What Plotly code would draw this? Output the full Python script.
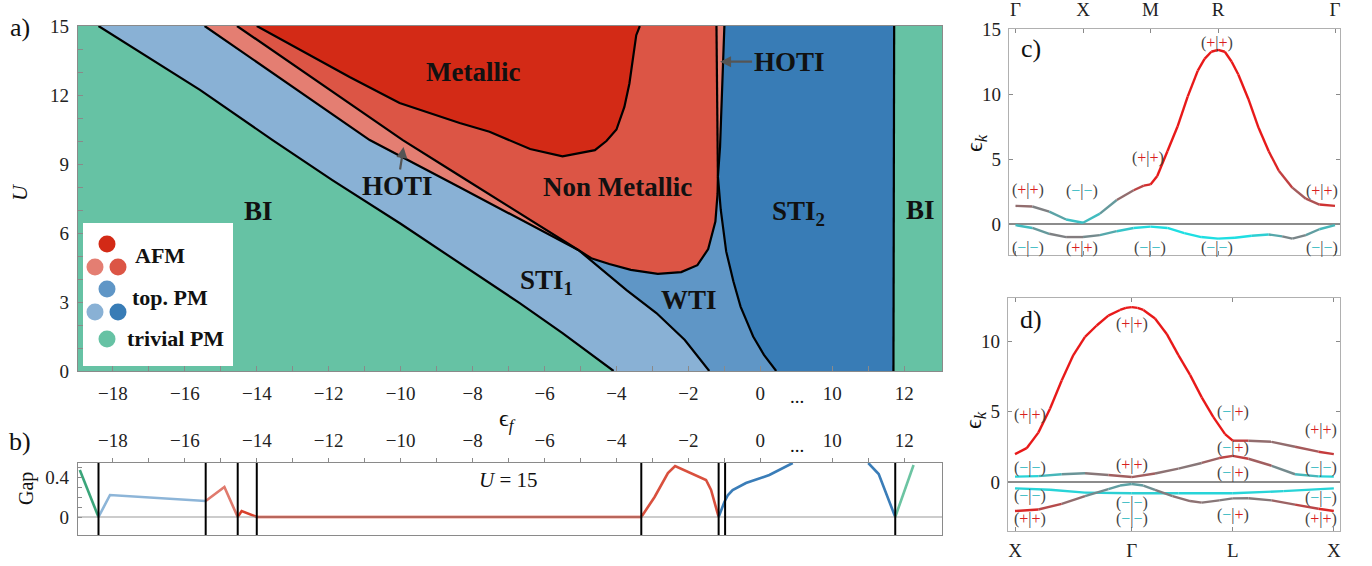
import plotly.graph_objects as go

W, H = 1372, 566

# ---------------- panel a : phase boundaries (eps_f, U) ----------------
bi_sti1_eps = [-18.4, -15.58, -13.56, -11.9, -10.0, -8.0, -6.7, -5.5, -4.08]
bi_sti1_U = [15, 12.22, 10.04, 8.3, 6.4, 4.3, 2.96, 1.65, 0]

hoti_low_eps = [-15.45, -12.9, -10.86, -8.36, -6.69, -5.05]
hoti_low_U = [15, 12.25, 10.04, 7.99, 6.62, 5.25]

hoti_up_eps = [-14.55, -12.2, -9.94, -8.36, -6.69, -5.05]
hoti_up_U = [15, 12.47, 10.04, 8.49, 6.86, 5.25]

sti1_wti_eps = [-5.05, -4.4, -3.72, -2.89, -2.1, -1.42]
sti1_wti_U = [5.25, 4.4, 3.52, 2.52, 1.35, 0]

metal_eps = [-14.0, -12.81, -11.42, -10.03, -8.36, -7.53, -6.4, -5.5, -4.6, -4.28, -4.0, -3.78, -3.64, -3.45, -3.35]
metal_U = [15, 13.96, 12.78, 11.65, 10.78, 10.4, 9.65, 9.33, 9.6, 10.0, 10.5, 11.48, 12.5, 14.6, 15]

nm_low_eps = [-5.05, -4.7, -4.2, -3.6, -2.85, -2.2, -1.75, -1.45, -1.25, -1.19, -1.18]
nm_low_U = [5.25, 4.9, 4.65, 4.4, 4.22, 4.3, 4.6, 5.3, 6.5, 7.7, 8.45]

wedge_l_eps = [-1.18, -1.2, -1.21, -1.22]
wedge_l_U = [8.45, 10.9, 13.0, 15]

wedge_r_eps = [-1.0, -1.05, -1.12, -1.18]
wedge_r_U = [15, 12.4, 9.75, 8.45]

sti2_left_eps = [-1.18, -1.1, -0.95, -0.75, -0.55, -0.2, 0.1, 0.44]
sti2_left_U = [8.45, 7.0, 5.2, 3.9, 2.8, 1.5, 0.7, 0]

sti2_right_eps = [11.72, 11.72, 11.7]
sti2_right_U = [15, 6, 0]

# axis break: eps in [9, 13] is drawn shifted by -8
BREAK_AT, BREAK_SHIFT = 1.0, 8.0
def axpos(e):
    return e if e <= BREAK_AT else e - BREAK_SHIFT

EPS_RANGE = [-18.97, 13.05]
U_RANGE = [0, 15]

a_tick_eps = [-18, -16, -14, -12, -10, -8, -6, -4, -2, 0, 10, 12]
a_tick_labels = ["−18", "−16", "−14", "−12", "−10", "−8", "−6", "−4", "−2", "0", "10", "12"]
a_minor_eps = [-17, -15, -13, -11, -9, -7, -5, -3, -1, 11]
a_ytick = [0, 3, 6, 9, 12, 15]
a_yminor = [1, 2, 4, 5, 7, 8, 10, 11, 13, 14]

# ---------------- panel b : gap at U = 15 ----------------
gap_boundaries = [-18.4, -15.42, -14.53, -14.0, -3.31, -1.16, -0.98, 11.75]
gap_bi1_eps, gap_bi1 = [-18.92, -18.4], [0.47, 0.0]
gap_sti1_eps, gap_sti1 = [-18.4, -18.08, -15.42], [0.0, 0.22, 0.16]
gap_hoti_eps, gap_hoti = [-15.42, -14.9, -14.53], [0.16, 0.30, 0.0]
gap_nm1_eps, gap_nm1 = [-14.53, -14.42, -14.0], [0.0, 0.06, 0.0]
gap_met_eps, gap_met = [-14.0, -3.31], [0.0, 0.0]
gap_nm2_eps, gap_nm2 = [-3.31, -2.94, -2.57, -2.37, -1.51, -1.37, -1.16], [0.0, 0.2, 0.44, 0.51, 0.37, 0.27, 0.0]
gap_sti2a_eps, gap_sti2a = [-1.16, -1.0, -0.9, -0.77, -0.4, 0.25, 0.9], [0.0, 0.15, 0.22, 0.27, 0.34, 0.42, 0.54]
gap_sti2b_eps, gap_sti2b = [11.0, 11.29, 11.75], [0.54, 0.43, 0.0]
gap_bi2_eps, gap_bi2 = [11.75, 12.26], [0.0, 0.52]
GAP_RANGE = [-0.18, 0.54]
gap_ticks, gap_labels = [0, 0.4], ["0", "0.4"]
gap_minor = [0.1, 0.2, 0.3, 0.5]

# ---------------- panel c : bands along G-X-M-R-G ----------------
c_kpts = [0, 1, 2, 3, 4.732]
c_klabels = ["Γ", "X", "M", "R", "Γ"]
c1_k = [0, 0.25, 0.5, 0.75, 1.0, 1.25, 1.5, 1.75, 1.9, 2.0, 2.1, 2.25, 2.4, 2.55, 2.7, 2.8, 2.9, 3.0,
        3.1, 3.2, 3.3, 3.45, 3.6, 3.75, 3.9, 4.1, 4.3, 4.5, 4.732]
c1_E = [1.4, 1.35, 0.95, 0.35, 0.1, 0.8, 1.85, 2.6, 2.95, 3.05, 3.7, 5.6, 7.5, 9.8, 11.8, 12.7, 13.25, 13.4,
        13.25, 12.5, 11.5, 9.6, 7.4, 5.6, 4.1, 2.8, 1.95, 1.5, 1.4]
c1_w = [0.6, 0.55, 0.4, 0.2, 0.1, 0.25, 0.45, 0.7, 0.85, 0.95, 1, 1, 1, 1, 1, 1, 1, 1,
        1, 1, 1, 1, 1, 1, 0.9, 0.7, 0.62, 0.8, 0.95]
c2_k = [0, 0.25, 0.5, 0.75, 1.0, 1.25, 1.5, 1.75, 2.0, 2.25, 2.5, 2.75, 3.0, 3.25, 3.5, 3.75, 3.95,
        4.1, 4.3, 4.5, 4.732]
c2_E = [-0.08, -0.3, -0.75, -1.0, -1.0, -0.85, -0.55, -0.3, -0.2, -0.3, -0.7, -1.0, -1.12, -1.05,
        -0.9, -0.8, -0.95, -1.12, -0.85, -0.4, -0.08]
c2_w = [0.1, 0.25, 0.45, 0.5, 0.5, 0.35, 0.2, 0.05, 0, 0, 0, 0, 0, 0, 0, 0.15, 0.4, 0.5, 0.4, 0.25, 0.15]
c_lab_k = [0.185, 0.985, 1.96, 2.99, 4.54, 0.185, 0.985, 1.985, 2.99, 4.54]
c_lab_E = [2.6, 2.55, 5.1, 13.9, 2.55, -1.85, -1.85, -1.85, -1.85, -1.85]
c_lab_s = ["++", "--", "++", "++", "++", "--", "++", "--", "--", "--"]

# ---------------- panel d : bands along X-G-L-X ----------------
d_kpts = [0, 1, 1.866, 2.732]
d_klabels = ["X", "Γ", "L", "X"]
d1_k = [0, 0.1, 0.2, 0.3, 0.4, 0.5, 0.6, 0.7, 0.8, 0.9, 0.95, 1.0, 1.05, 1.1, 1.2, 1.3, 1.4, 1.5, 1.6,
        1.7, 1.8, 1.866, 2.0, 2.2, 2.4, 2.6, 2.732]
d1_E = [1.98, 2.4, 3.5, 5.2, 7.2, 9.0, 10.3, 11.1, 11.8, 12.2, 12.35, 12.4, 12.35, 12.2, 11.6, 10.5,
        9.0, 7.6, 6.0, 4.6, 3.4, 2.93, 2.93, 2.85, 2.5, 2.15, 1.98]
d1_w = [1] * 22 + [0.6, 0.55, 0.6, 0.75, 0.9]
d2_k = [0, 0.2, 0.4, 0.6, 0.8, 1.0, 1.2, 1.4, 1.6, 1.75, 1.866, 2.0, 2.2, 2.4, 2.6, 2.732]
d2_E = [0.38, 0.42, 0.55, 0.62, 0.5, 0.35, 0.6, 0.95, 1.35, 1.7, 1.85, 1.65, 1.15, 0.55, 0.4, 0.38]
d2_w = [0, 0.1, 0.3, 0.45, 0.6, 0.7, 0.6, 0.5, 0.55, 0.7, 0.85, 0.75, 0.55, 0.3, 0.1, 0.0]
d3_k = [0, 0.3, 0.6, 1.0, 1.4, 1.866, 2.3, 2.732]
d3_E = [-0.45, -0.55, -0.75, -0.8, -0.8, -0.8, -0.65, -0.45]
d3_w = [0.05, 0.05, 0.05, 0.1, 0.05, 0.05, 0.05, 0.05]
d4_k = [0, 0.2, 0.4, 0.6, 0.8, 0.9, 1.0, 1.1, 1.2, 1.35, 1.5, 1.6, 1.75, 1.866, 2.0, 2.2, 2.4, 2.6, 2.732]
d4_E = [-2.06, -1.95, -1.55, -1.0, -0.5, -0.25, -0.14, -0.25, -0.55, -1.0, -1.35, -1.46, -1.3,
        -1.16, -1.15, -1.3, -1.6, -1.9, -2.06]
d4_w = [1.0, 0.85, 0.65, 0.5, 0.35, 0.3, 0.3, 0.35, 0.45, 0.55, 0.55, 0.55, 0.5, 0.5, 0.5, 0.55,
        0.7, 0.85, 1.0]
d_lab_k = [0.13] * 4 + [1.0] * 4 + [1.866] * 4 + [2.62] * 4
d_lab_E = [4.75, 1.0, -1.0, -2.6, 11.2, 1.2, -1.5, -2.65, 4.96, 2.4, 0.64, -2.34, 3.7, 1.0, -1.13, -2.6]
d_lab_s = ["++", "--", "--", "++", "++", "++", "--", "--", "-+", "-+", "-+", "-+", "++", "--", "--", "++"]

# ---------------- styles ----------------
C_BI = "#66c2a4"
C_STI1 = "#89b1d5"
C_WTI = "#5f96c6"
C_STI2 = "#387cb6"
C_HOTI = "#e47e72"
C_NM = "#dc5545"
C_MET = "#d32a16"
SERIF = "Liberation Serif"
RED_RGB = (232, 25, 25)
CYAN_RGB = (30, 222, 226)


def mix(w):
    c = [round(CYAN_RGB[i] + (RED_RGB[i] - CYAN_RGB[i]) * w) for i in range(3)]
    return "rgb(%d,%d,%d)" % tuple(c)


def px2paper(px, py):
    return px / W, 1 - py / H


def curve(eps, U):
    return [axpos(e) for e in eps], list(U)


fig = go.Figure()


def poly(parts, color):
    xs, ys = [], []
    for (eps, U, rev) in parts:
        xx, yy = curve(eps, U)
        if rev:
            xx, yy = xx[::-1], yy[::-1]
        xs += xx
        ys += yy
    fig.add_trace(go.Scatter(x=xs, y=ys, fill="toself", fillcolor=color, mode="lines",
                             line=dict(width=0, color=color), hoverinfo="skip",
                             xaxis="x", yaxis="y"))


# regions (BI = background)
poly([(bi_sti1_eps, bi_sti1_U, False), (sti1_wti_eps, sti1_wti_U, True),
      (hoti_low_eps, hoti_low_U, True)], C_STI1)
poly([(sti1_wti_eps, sti1_wti_U, False), (sti2_left_eps, sti2_left_U, True),
      (nm_low_eps, nm_low_U, True)], C_WTI)
poly([(wedge_r_eps, wedge_r_U, False), (sti2_left_eps, sti2_left_U, False),
      (sti2_right_eps, sti2_right_U, True)], C_STI2)
poly([(hoti_low_eps, hoti_low_U, False), (hoti_up_eps, hoti_up_U, True)], C_HOTI)
poly([(hoti_up_eps, hoti_up_U, False), (nm_low_eps, nm_low_U, False),
      (wedge_l_eps, wedge_l_U, False)], C_NM)
poly([(metal_eps, metal_U, False)], C_MET)
poly([(wedge_l_eps, wedge_l_U, False), (wedge_r_eps, wedge_r_U, False)], C_HOTI)

for eps, U in [(bi_sti1_eps, bi_sti1_U), (hoti_low_eps, hoti_low_U), (sti1_wti_eps, sti1_wti_U),
               (hoti_up_eps, hoti_up_U), (metal_eps, metal_U), (nm_low_eps, nm_low_U),
               (wedge_l_eps, wedge_l_U), (wedge_r_eps, wedge_r_U), (sti2_left_eps, sti2_left_U),
               (sti2_right_eps, sti2_right_U)]:
    xx, yy = curve(eps, U)
    fig.add_trace(go.Scatter(x=xx, y=yy, mode="lines", line=dict(color="black", width=2.2),
                             hoverinfo="skip", xaxis="x", yaxis="y"))

# panel b gap
for eps, g, col in [(gap_bi1_eps, gap_bi1, "#3aa57a"), (gap_sti1_eps, gap_sti1, "#8db5d8"),
                    (gap_hoti_eps, gap_hoti, "#e07a6d"), (gap_nm1_eps, gap_nm1, "#d8402c"),
                    (gap_met_eps, gap_met, "#d6331f"), (gap_nm2_eps, gap_nm2, "#d9503e"),
                    (gap_sti2a_eps, gap_sti2a, "#3a7db8"), (gap_sti2b_eps, gap_sti2b, "#3a7db8"),
                    (gap_bi2_eps, gap_bi2, "#6cc4a2")]:
    xx, yy = curve(eps, g)
    fig.add_trace(go.Scatter(x=xx, y=yy, mode="lines", line=dict(color=col, width=2.6),
                             hoverinfo="skip", xaxis="x2", yaxis="y2", cliponaxis=True))


# bands c / d
def band(k, E, w, xa, ya):
    for i in range(len(k) - 1):
        fig.add_trace(go.Scatter(x=[k[i], k[i + 1]], y=[E[i], E[i + 1]], mode="lines",
                                 line=dict(color=mix((w[i] + w[i + 1]) / 2), width=2.4),
                                 hoverinfo="skip", xaxis=xa, yaxis=ya))


band(c1_k, c1_E, c1_w, "x3", "y3")
band(c2_k, c2_E, c2_w, "x3", "y3")
for k, E, w in [(d1_k, d1_E, d1_w), (d2_k, d2_E, d2_w), (d3_k, d3_E, d3_w), (d4_k, d4_E, d4_w)]:
    band(k, E, w, "x4", "y4")

# ---------------- annotations ----------------
ann = []
shapes = []

# BI background of panel a
shapes.append(dict(type="rect", xref="x", yref="y", x0=axpos(EPS_RANGE[0]), x1=axpos(EPS_RANGE[1]),
                   y0=U_RANGE[0], y1=U_RANGE[1], fillcolor=C_BI, line=dict(width=0), layer="below"))


def lab(txt, px, py, size=27, bold=True, xanchor="center", angle=0, color="#111"):
    x, y = px2paper(px, py)
    t = "<b>%s</b>" % txt if bold else txt
    ann.append(dict(text=t, x=x, y=y, xref="paper", yref="paper", showarrow=False,
                    xanchor=xanchor, yanchor="middle", textangle=angle,
                    font=dict(family=SERIF, size=size, color=color)))


lab("Metallic", 473, 72)
lab("Non Metallic", 617, 187)
lab("BI", 258, 211)
lab("STI<sub>1</sub>", 546, 282)
lab("WTI", 689, 300)
lab("STI<sub>2</sub>", 798, 213)
lab("BI", 920, 210)

# HOTI labels with arrows (arrow head at the strip, text at offset)
for (tx, ty, ax, ay) in [(axpos(-9.92), 9.74, -6, 39), (axpos(-1.12), 13.45, 69, 0)]:
    ann.append(dict(text="<b>HOTI</b>", x=tx, y=ty, xref="x", yref="y", ax=ax, ay=ay, showarrow=True,
                    arrowhead=2, arrowsize=1, arrowwidth=2.2, arrowcolor="#555", standoff=0,
                    font=dict(family=SERIF, size=27, color="#111")))

# panel labels and axis titles
lab("a)", 20, 27, size=26, bold=False)
lab("b)", 20, 441, size=26, bold=False)
lab("c)", 1031, 49, size=26, bold=False)
lab("d)", 1031, 319, size=26, bold=False)
lab("<i>U</i>", 20, 192, size=22, bold=False, angle=-90)
lab("Gap", 26, 489, size=20, bold=False, angle=-90)
lab("ϵ<sub><i>f</i></sub>", 507, 420, size=24, bold=False)
lab("<i>U</i> = 15", 508, 480, size=21, bold=False)
lab("ϵ<sub><i>k</i></sub>", 976, 143, size=24, bold=False, angle=-90)
lab("ϵ<sub><i>k</i></sub>", 975, 420, size=24, bold=False, angle=-90)
lab("...", 797, 396, size=19, bold=False)
lab("...", 797, 445, size=19, bold=False)

# legend
x0, y1 = px2paper(83, 223)
x1, y0 = px2paper(233, 366)
shapes.append(dict(type="rect", xref="paper", yref="paper", x0=x0, x1=x1, y0=y0, y1=y1,
                   fillcolor="white", line=dict(width=0), layer="above"))
R = 8.5
for (cx, cy, col) in [(107, 244, C_MET), (95, 267, C_HOTI), (118, 267, C_NM), (107, 289, C_WTI),
                      (95, 312, C_STI1), (118, 312, C_STI2), (107, 339, C_BI)]:
    ax0, ay1 = px2paper(cx - R, cy - R)
    ax1, ay0 = px2paper(cx + R, cy + R)
    shapes.append(dict(type="circle", xref="paper", yref="paper", x0=ax0, x1=ax1, y0=ay0, y1=ay1,
                       fillcolor=col, line=dict(width=0), layer="above"))
lab("AFM", 133, 255, size=22, xanchor="left")
lab("top. PM", 130, 297, size=22, xanchor="left")
lab("trivial PM", 125, 338, size=22, xanchor="left")

# panel b lines
shapes.append(dict(type="line", xref="x2 domain", yref="y2", x0=0, x1=1, y0=0, y1=0,
                   line=dict(color="#999", width=1.2)))
for e in gap_boundaries:
    shapes.append(dict(type="line", xref="x2", yref="y2 domain", x0=axpos(e), x1=axpos(e), y0=0, y1=1,
                       line=dict(color="black", width=2)))
# zero lines c, d
for xa, ya in [("x3", "y3"), ("x4", "y4")]:
    shapes.append(dict(type="line", xref=xa + " domain", yref=ya, x0=0, x1=1, y0=0, y1=0,
                       line=dict(color="#666", width=1.5), layer="below"))

PLUS = '<span style="color:#d8201e">+</span>'
MINUS = '<span style="color:#2bb8c0">−</span>'


def sign_text(s):
    return "(" + (PLUS if s[0] == "+" else MINUS) + "|" + (PLUS if s[1] == "+" else MINUS) + ")"


for ks, Es, ss, xa, ya in [(c_lab_k, c_lab_E, c_lab_s, "x3", "y3"), (d_lab_k, d_lab_E, d_lab_s, "x4", "y4")]:
    for k, E, s in zip(ks, Es, ss):
        ann.append(dict(text=sign_text(s), x=k, y=E, xref=xa, yref=ya, showarrow=False,
                        font=dict(family=SERIF, size=16, color="#444")))

# ---------------- axes ----------------
TF = dict(family=SERIF, size=19, color="#222")
FRAME = "#8a8a8a"


def dom(px0, px1, py0, py1):
    return [px0 / W, px1 / W], [1 - py1 / H, 1 - py0 / H]


ax_dom, ay_dom = dom(78, 942, 26, 371)
bx_dom, by_dom = dom(78, 942, 463, 535)
cx_dom, cy_dom = dom(1009, 1340, 29, 255)
dx_dom, dy_dom = dom(1008, 1340, 298, 531)

a_xvals = [axpos(e) for e in a_tick_eps]
a_xminor = [axpos(e) for e in a_minor_eps]
XR = [axpos(EPS_RANGE[0]), axpos(EPS_RANGE[1])]

common = dict(showgrid=False, zeroline=False, showline=True, mirror=True, linecolor=FRAME,
              linewidth=1.2, tickcolor=FRAME, tickfont=TF)
light = {**common, "mirror": "allticks", "linecolor": "#b0b0b0"}


def minor(vals, kind, ln):
    return dict(tickmode="array", tickvals=vals, ticks=kind, ticklen=ln, tickcolor=FRAME, showgrid=False)


fig.update_layout(
    width=W, height=H, margin=dict(l=0, r=0, t=0, b=0, autoexpand=False),
    paper_bgcolor="white", plot_bgcolor="white", showlegend=False,
    xaxis=dict(domain=ax_dom, range=XR, anchor="y", tickmode="array", tickvals=a_xvals,
               ticktext=a_tick_labels, ticks="inside", ticklen=5, ticklabelstandoff=5,
               minor=minor(a_xminor, "inside", 5), **common),
    yaxis=dict(domain=ay_dom, range=U_RANGE, anchor="x", tickmode="array", tickvals=a_ytick,
               ticks="inside", ticklen=5, ticklabelstandoff=4,
               minor=minor(a_yminor, "inside", 5), **common),
    xaxis2=dict(domain=bx_dom, range=XR, anchor="y2", side="top", tickmode="array", tickvals=a_xvals,
                ticktext=a_tick_labels, ticks="outside", ticklen=4, ticklabelstandoff=3,
                minor=minor(a_xminor, "outside", 4), **common),
    yaxis2=dict(domain=by_dom, range=GAP_RANGE, anchor="x2", tickmode="array",
                tickvals=gap_ticks, ticktext=gap_labels, ticks="inside", ticklen=4, ticklabelstandoff=4,
                minor=minor(gap_minor, "inside", 4), **common),
    xaxis3=dict(domain=cx_dom, range=[-0.096, 4.806], anchor="y3", side="top", tickmode="array",
                tickvals=c_kpts, ticktext=c_klabels, ticks="inside", ticklen=4, ticklabelstandoff=4,
                **light),
    yaxis3=dict(domain=cy_dom, range=[-2.38, 15], anchor="x3", tickmode="array",
                tickvals=[0, 5, 10, 15], ticks="inside", ticklen=4, ticklabelstandoff=3, **light),
    xaxis4=dict(domain=dx_dom, range=[-0.06, 2.785], anchor="y4", tickmode="array",
                tickvals=d_kpts, ticktext=d_klabels, ticks="inside", ticklen=4, ticklabelstandoff=2,
                **light),
    yaxis4=dict(domain=dy_dom, range=[-3.475, 13.05], anchor="x4", tickmode="array",
                tickvals=[0, 5, 10], ticks="inside", ticklen=4, ticklabelstandoff=3, **light),
    annotations=ann, shapes=shapes,
)

fig.write_html("out.html", config={"displayModeBar": False},
               post_script="document.body.style.margin='0px';document.body.style.overflow='hidden';")
